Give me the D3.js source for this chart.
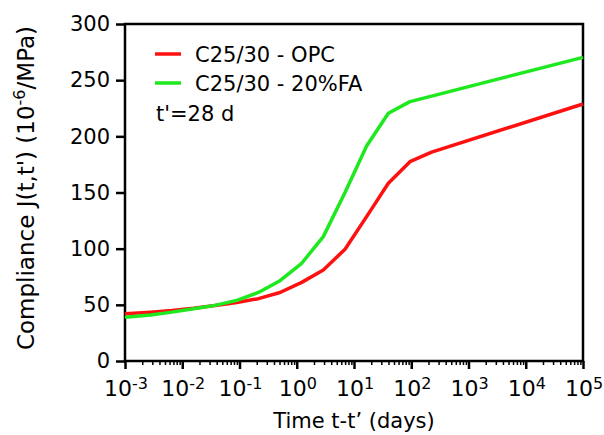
<!DOCTYPE html>
<html>
<head>
<meta charset="utf-8">
<script src="https://cdn.jsdelivr.net/npm/d3@7"></script>
<style>
  body { margin: 0; background: #fff; }
  svg text { font-family: "DejaVu Sans", sans-serif; fill: #000; }
</style>
</head>
<body>
<svg id="chart" width="604" height="435"></svg>
<script>
// time since loading (days)
const times = [0.001, 0.0028, 0.0066, 0.0158, 0.0375, 0.0895, 0.214, 0.51, 1.22, 2.91, 6.97, 16.6, 39.8, 95, 227, 100000]
const opc = [42, 43.5, 45, 47, 49.5, 52, 55.5, 61, 70, 81, 99.5, 128.5, 158.2, 177.4, 186, 228.8]
const fa20 = [39, 41, 43.5, 46.5, 49.5, 54, 61, 71.5, 87, 110.7, 150, 191.4, 220.5, 230.9, 235.8, 270.3]
const seriesNames = ['C25/30 - OPC', 'C25/30 - 20%FA']
const seriesColors = ['#ff1010', '#1ee81e']
const yTicks = [0, 50, 100, 150, 200, 250, 300]
const xExponents = [-3, -2, -1, 0, 1, 2, 3, 4, 5]

const svg = d3.select('#chart')
const plotL = 125, plotR = 583, plotT = 24, plotB = 361

const x = d3.scaleLog().domain([1e-3, 1e5]).range([plotL, plotR])
const y = d3.scaleLinear().domain([0, 300]).range([plotB, plotT])

// frame
svg.append('rect')
  .attr('x', plotL).attr('y', plotT)
  .attr('width', plotR - plotL).attr('height', plotB - plotT)
  .attr('fill', 'none').attr('stroke', '#000').attr('stroke-width', 2.5)

// series
const line = d3.line().x(d => x(d[0])).y(d => y(d[1]))
const series = [opc, fa20]
series.forEach((vals, i) => {
  svg.append('path')
    .datum(times.map((t, j) => [t, vals[j]]))
    .attr('d', line)
    .attr('fill', 'none')
    .attr('stroke', seriesColors[i])
    .attr('stroke-width', 3.5)
    .attr('stroke-linejoin', 'round')
})

// y axis
const yAxis = svg.append('g')
  .attr('transform', `translate(${plotL},0)`)
  .call(d3.axisLeft(y).tickValues(yTicks).tickSize(9).tickPadding(6))
yAxis.select('.domain').remove()
yAxis.selectAll('line').attr('stroke-width', 2.5)
yAxis.selectAll('text').attr('font-size', 21).attr('font-family', null)

// x axis: majors, minors, then superscript labels by hand
const majors = xExponents.map(e => Math.pow(10, e))
const minors = []
xExponents.slice(0, -1).forEach(e => {
  for (let k = 2; k <= 9; k++) minors.push(k * Math.pow(10, e))
})
const xMajor = svg.append('g')
  .attr('transform', `translate(0,${plotB})`)
  .call(d3.axisBottom(x).tickValues(majors).tickSize(8).tickFormat(''))
xMajor.select('.domain').remove()
xMajor.selectAll('line').attr('stroke-width', 2.5)
const xMinor = svg.append('g')
  .attr('transform', `translate(0,${plotB})`)
  .call(d3.axisBottom(x).tickValues(minors).tickSize(4).tickFormat(''))
xMinor.select('.domain').remove()
xMinor.selectAll('line').attr('stroke-width', 1.5)

const xl = svg.append('g').selectAll('text').data(xExponents).join('text')
  .attr('x', e => x(Math.pow(10, e)) + 1)
  .attr('y', 396)
  .attr('text-anchor', 'middle')
  .attr('font-size', 22)
xl.append('tspan').text('10')
xl.append('tspan').attr('font-size', 16).attr('dy', -7).text(e => String(e))

svg.append('text')
  .attr('x', 354).attr('y', 428)
  .attr('text-anchor', 'middle')
  .attr('font-size', 21)
  .text('Time t-t\u2019 (days)')

const yl = svg.append('text')
  .attr('transform', 'translate(34,188) rotate(-90)')
  .attr('text-anchor', 'middle')
  .attr('font-size', 23)
yl.append('tspan').text("Compliance J(t,t') (10")
yl.append('tspan').attr('font-size', 16).attr('dy', -9).text('-6')
yl.append('tspan').attr('dy', 9).text('/MPa)')

// legend
const lg = svg.append('g')
seriesNames.forEach((name, i) => {
  const ly = 54 + i * 29
  lg.append('line')
    .attr('x1', 155).attr('x2', 181).attr('y1', ly).attr('y2', ly)
    .attr('stroke', seriesColors[i]).attr('stroke-width', 3.5)
  lg.append('text')
    .attr('x', 195).attr('y', ly + 8)
    .attr('font-size', 21)
    .text(name)
})
lg.append('text')
  .attr('x', 156).attr('y', 121)
  .attr('font-size', 21)
  .text("t'=28 d")
</script>
</body>
</html>
